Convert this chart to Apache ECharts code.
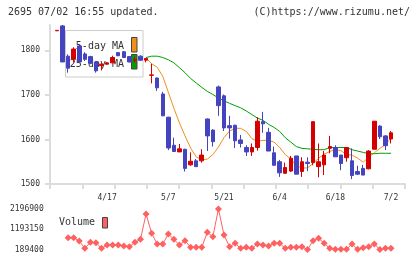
<!DOCTYPE html>
<html><head><meta charset="utf-8">
<script src="https://cdn.jsdelivr.net/npm/echarts@6/dist/echarts.min.js"></script>
<style>html,body{margin:0;padding:0;background:#fff}#c{width:420px;height:259px}</style>
</head><body><div id="c"></div>
<script>
const dates = ['4/4','4/5','4/8','4/9','4/10','4/11','4/12','4/15','4/16','4/17','4/18','4/19','4/22','4/23','4/24','4/25','4/26','4/30','5/1','5/2','5/7','5/8','5/9','5/10','5/13','5/14','5/15','5/16','5/17','5/20','5/21','5/22','5/23','5/24','5/27','5/28','5/29','5/30','5/31','6/3','6/4','6/5','6/6','6/7','6/10','6/11','6/12','6/13','6/14','6/17','6/18','6/19','6/20','6/21','6/24','6/25','6/26','6/27','6/28','7/1','7/2'];
const opens  = [1844,1855,1787,1780,1810,1792,1786,1774,1766,1769,1772,1795,1797,1786,1777,1787,1778,1744,1738,1702,1650,1587,1572,1578,1543,1552,1552,1646,1621,1718,1698,1631,1632,1599,1582,1572,1582,1640,1616,1570,1550,1524,1529,1563,1528,1549,1548,1539,1543,1580,1582,1565,1559,1552,1528,1535,1534,1578,1630,1608,1601];
const closes = [1845,1774,1760,1803,1774,1780,1771,1754,1769,1772,1784,1788,1784,1774,1779,1778,1782,1745,1716,1653,1581,1573,1579,1535,1551,1539,1565,1608,1595,1676,1626,1626,1597,1591,1572,1582,1641,1635,1574,1542,1525,1537,1558,1522,1550,1546,1640,1550,1565,1584,1561,1546,1582,1519,1522,1520,1574,1641,1606,1586,1615];
const lows   = [1844,1774,1750,1773,1774,1776,1769,1750,1755,1768,1772,1787,1783,1773,1772,1776,1773,1726,1709,1653,1576,1572,1572,1528,1541,1539,1548,1574,1584,1653,1619,1602,1581,1582,1563,1563,1575,1615,1574,1542,1516,1524,1527,1522,1516,1529,1542,1515,1520,1569,1561,1531,1550,1511,1520,1520,1533,1578,1601,1576,1591];
const highs  = [1845,1857,1791,1807,1813,1796,1788,1776,1771,1774,1788,1796,1798,1787,1786,1789,1782,1770,1739,1707,1651,1604,1590,1579,1571,1556,1578,1647,1623,1721,1701,1653,1633,1610,1587,1591,1650,1662,1626,1584,1554,1548,1563,1563,1560,1560,1640,1591,1574,1608,1587,1565,1582,1580,1541,1543,1576,1641,1632,1610,1619];
const ma5  = [null,1830,1826,null,null,null,null,null,null,null,null,null,null,null,null,null,1783,1770,1762,1742,1706,1670,1637,1608,1581,1561,1554,1556,1566,1583,1604,1619,1625,1625,1618,1602,1596,1598,1598,1594,1582,1566,1556,1541,1536,1536,1546,1558,1567,1573,1577,1575,1566,1565,1558,1549,1560,1570,1580,1588,1604];
const ma25 = [null,1797,1796,null,null,null,null,null,null,null,null,null,null,null,null,null,1784,1787,1787,1784,1779,1772,1761,1750,1737,1727,1717,1708,1701,1693,1687,1681,1676,1671,1664,1656,1648,1643,1634,1627,1618,1604,1594,1584,1580,1579,1578,1577,1577,1582,1582,1582,1582,1577,1574,1571,1568,1568,1569,1569,1569];
const volume = [null,null,776000,776000,611000,247000,545000,528000,247000,412000,412000,412000,363000,330000,545000,693000,1949000,991000,462000,462000,958000,693000,412000,627000,297000,297000,297000,1040000,826000,2196900,908000,330000,495000,247000,297000,247000,462000,412000,363000,495000,495000,247000,297000,297000,330000,189400,627000,743000,495000,247000,197000,197000,197000,462000,197000,280000,330000,462000,190000,247000,247000];
const priceTicks = [1500,1600,1700,1800];
const volumeTicks = [189400,1193150,2196900];
const dateLabels = ['4/17','5/7','5/21','6/4','6/18','7/2'];
const titleLeft = '2695 07/02 16:55 updated.';
const titleRight = '(C)https://www.rizumu.net/';

const FONT = '"DejaVu Sans Mono", monospace';
const candleData = dates.map((d,i)=>[opens[i],closes[i],lows[i],highs[i]]);
const chart = echarts.init(document.getElementById('c'), null, {renderer:'canvas'});
const PMIN = 1500, PMAX = 1857;
const plain = v => String(Math.round(v));
chart.setOption({
  animation:false,
  backgroundColor:'#fff',
  grid:[
    {left:54.2, width:339.6, top:25, height:159},
    {left:50, width:355, top:25, height:159},
    {left:54.2, width:339.6, top:209, height:40.5}
  ],
  xAxis:[
    {type:'category', gridIndex:0, data:dates, boundaryGap:true, show:false},
    {type:'value', gridIndex:1, min:0, max:11, interval:1,
      axisLine:{show:true, lineStyle:{color:'#dcdcdc', width:2}},
      axisTick:{show:true, length:5, lineStyle:{color:'#dcdcdc', width:2}},
      axisLabel:{show:false}, splitLine:{show:false}},
    {type:'category', gridIndex:2, data:dates, boundaryGap:true, position:'top',
      axisLine:{show:false}, axisTick:{show:false},
      axisLabel:{show:true, margin:7, fontFamily:FONT, fontSize:8, color:'#333',
        interval:(idx,val)=>dateLabels.indexOf(val)>=0}}
  ],
  yAxis:[
    {type:'value', gridIndex:0, min:PMIN, max:PMAX, show:false, splitLine:{show:false}},
    {type:'value', gridIndex:1, min:PMIN, max:PMAX,
      axisLine:{show:true, lineStyle:{color:'#dcdcdc', width:2}},
      axisTick:{show:true, length:5, customValues:priceTicks, lineStyle:{color:'#dcdcdc', width:2}},
      axisLabel:{show:true, customValues:priceTicks, formatter:plain, margin:10, fontFamily:FONT, fontSize:8, color:'#333'},
      splitLine:{show:false}},
    {type:'value', gridIndex:2, min:volumeTicks[0], max:volumeTicks[2],
      axisLine:{show:false}, axisTick:{show:false}, splitLine:{show:false},
      axisLabel:{show:true, customValues:volumeTicks, formatter:plain, margin:10.5, fontFamily:FONT, fontSize:8, color:'#333'}}
  ],
  graphic:[
    {type:'text', left:8, top:7, z:10, style:{text:titleLeft, font:'10px '+FONT, fill:'#333'}},
    {type:'text', right:10, top:7, z:10, style:{text:titleRight, font:'10px '+FONT, fill:'#333'}},
    {type:'rect', shape:{x:65.5, y:30.5, width:77.5, height:46.5}, z:1.5, style:{fill:'#fff', stroke:'#cccccc', lineWidth:1}},
    {type:'text', x:124, y:46, z:2, style:{text:'5-day MA', font:'10px '+FONT, fill:'#333', align:'right', verticalAlign:'middle'}},
    {type:'text', x:124, y:64, z:2, style:{text:'25-day MA', font:'10px '+FONT, fill:'#333', align:'right', verticalAlign:'middle'}},
    {type:'rect', shape:{x:131.5, y:37.5, width:5.5, height:14.5}, z:2, style:{fill:'#f0901a', stroke:'#444', lineWidth:1}},
    {type:'rect', shape:{x:131.5, y:54.5, width:5.5, height:14.5}, z:2, style:{fill:'#00a000', stroke:'#444', lineWidth:1}},
    {type:'text', x:59, y:222.5, z:2, style:{text:'Volume', font:'10px '+FONT, fill:'#333', verticalAlign:'middle'}},
    {type:'rect', shape:{x:102.5, y:217.5, width:5, height:10.5}, z:2, style:{fill:'#ff6060', stroke:'#444', lineWidth:1}}
  ],
  series:[
    {type:'line', name:'5-day MA', xAxisIndex:0, yAxisIndex:0, data:ma5, z:1, showSymbol:false, symbol:'none',
      lineStyle:{color:'#f0901a', width:1}, connectNulls:false},
    {type:'line', name:'25-day MA', xAxisIndex:0, yAxisIndex:0, data:ma25, z:1, showSymbol:false, symbol:'none',
      lineStyle:{color:'#00a000', width:1}, connectNulls:false},
    {type:'candlestick', xAxisIndex:0, yAxisIndex:0, data:candleData, z:3, barWidth:4,
      itemStyle:{color:'#d40000', color0:'#4444c0', borderColor:'#d40000', borderColor0:'#4444c0', borderWidth:1}},
    {type:'line', name:'Volume', xAxisIndex:2, yAxisIndex:2, data:volume, symbol:'diamond', symbolSize:7, showAllSymbol:true,
      lineStyle:{color:'#ff6060', width:1}, itemStyle:{color:'#ff6060'}}
  ]
});
</script></body></html>
